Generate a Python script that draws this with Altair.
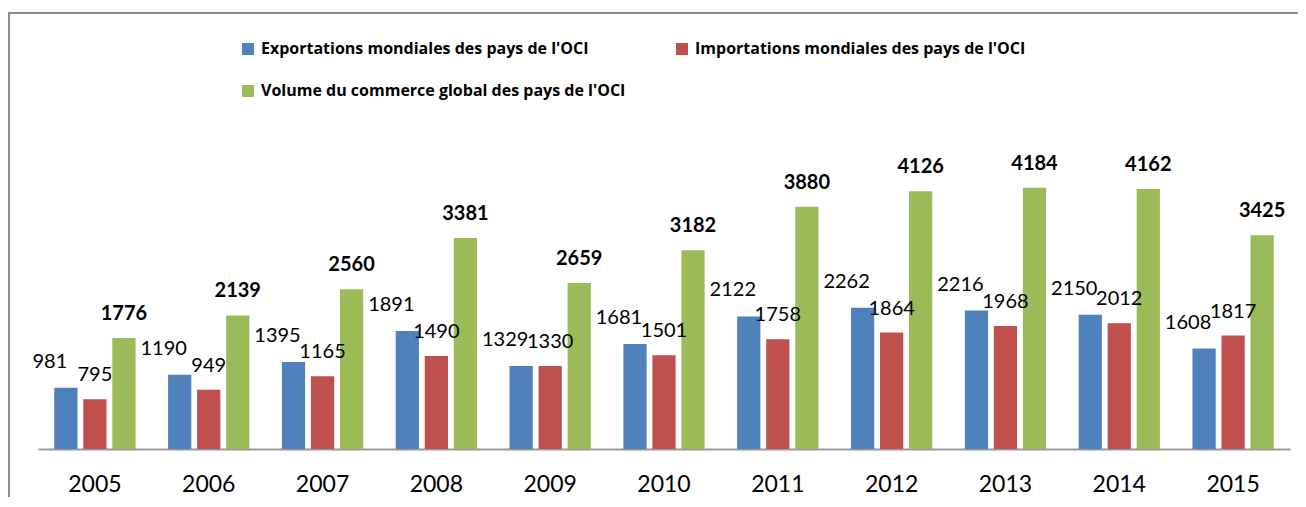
import altair as alt
import pandas as pd

years = [str(y) for y in range(2005, 2016)]
exports = [981, 1190, 1395, 1891, 1329, 1681, 2122, 2262, 2216, 2150, 1608]
imports = [795, 949, 1165, 1490, 1330, 1501, 1758, 1864, 1968, 2012, 1817]
total = [1776, 2139, 2560, 3381, 2659, 3182, 3880, 4126, 4184, 4162, 3425]
series = [
    "Exportations mondiales des pays de l'OCI",
    "Importations mondiales des pays de l'OCI",
    "Volume du commerce global des pays de l'OCI",
]
colors = ["#4F81BD", "#C0504D", "#9BBB59"]

rows = []
for i, yr in enumerate(years):
    for s, vals in zip(series, [exports, imports, total]):
        rows.append({"year": yr, "series": s, "value": vals[i]})
df = pd.DataFrame(rows)

FONT = "Lato"
LEGEND_FONT = "Open Sans"

x = alt.X(
    "year:N",
    sort=years,
    scale=alt.Scale(paddingInner=0.235, paddingOuter=0.1175),
    axis=alt.Axis(
        title=None, ticks=False, tickSize=0, labelFontSize=23, labelPadding=42,
        labelBaseline="alphabetic", labelColor="black", domainColor="#999999",
        domainWidth=2, labelAngle=0, labelFont=FONT, grid=False,
    ),
)
xo = alt.XOffset(
    "series:N", sort=series,
    scale=alt.Scale(domain=series, paddingInner=0.2, paddingOuter=0.1),
)
y = alt.Y("value:Q", scale=alt.Scale(domain=[0, 4500]), axis=None)

bars = alt.Chart(df).mark_bar().encode(
    x=x,
    xOffset=xo,
    y=y,
    color=alt.Color(
        "series:N",
        sort=series,
        scale=alt.Scale(domain=series, range=colors),
        legend=alt.Legend(
            title=None, orient="none", legendX=202, legendY=-127, columns=2,
            values=[series[0], series[2], series[1]],
            gridAlign="none", columnPadding=48, rowPadding=26,
            symbolType="square", symbolSize=144, symbolStrokeWidth=0,
            labelFontSize=16, labelFontWeight="bold", labelColor="black",
            labelOffset=5, labelLimit=800, labelFont=LEGEND_FONT,
        ),
    ),
)

label_style = [(-16, -20, "normal"), (0, -18, "normal"), (0, -18, "bold")]
texts = []
for s, (dx, dy, fw) in zip(series, label_style):
    texts.append(
        alt.Chart(df)
        .transform_filter(alt.datum.series == s)
        .mark_text(dx=dx, dy=dy, baseline="alphabetic", fontSize=20,
                   fontWeight=fw, color="black", font=FONT)
        .encode(x=x, xOffset=xo, y=y, text="value:Q")
    )

frame_data = pd.DataFrame({"k": [0]})
frame_top = alt.Chart(frame_data).mark_rule(color="#8c8c8c", strokeWidth=2).encode(
    x=alt.value(-30), x2=alt.value(1300), y=alt.value(-155)
)
frame_left = alt.Chart(frame_data).mark_rule(color="#8c8c8c", strokeWidth=2).encode(
    x=alt.value(-29), y=alt.value(-156), y2=alt.value(400)
)

chart = alt.layer(frame_top, frame_left, bars, *texts).properties(
    width=1252,
    height=281,
    autosize=alt.AutoSizeParams(type="none"),
    padding={"left": 30, "top": 160, "right": 8, "bottom": 48},
).configure(font=FONT).configure_view(stroke=None)

chart.save("out.html", embed_options={"renderer": "svg", "actions": False})
